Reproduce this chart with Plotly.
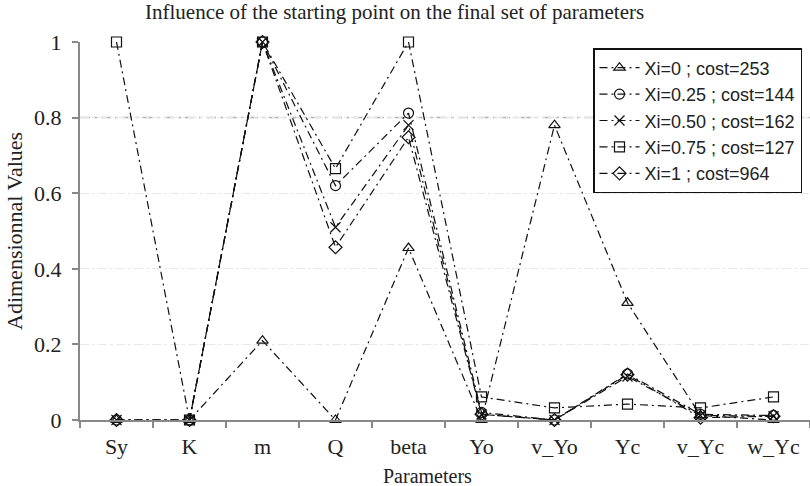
import plotly.graph_objects as go

params = ["Sy", "K", "m", "Q", "beta", "Yo", "v_Yo", "Yc", "v_Yc", "w_Yc"]
names = ["Xi=0 ; cost=253", "Xi=0.25 ; cost=144", "Xi=0.50 ; cost=162",
         "Xi=0.75 ; cost=127", "Xi=1 ; cost=964"]
xi_0 = [0.0, 0.0, 0.21, 0.0, 0.455, 0.0, 0.78, 0.31, 0.012, 0.0]
xi_025 = [0.0, 0.0, 1.0, 0.62, 0.812, 0.02, 0.0, 0.122, 0.015, 0.012]
xi_050 = [0.0, 0.0, 1.0, 0.51, 0.78, 0.015, 0.0, 0.115, 0.012, 0.01]
xi_075 = [1.0, 0.0, 1.0, 0.665, 1.0, 0.061, 0.032, 0.042, 0.032, 0.061]
xi_1 = [0.0, 0.0, 1.0, 0.457, 0.748, 0.015, 0.0, 0.12, 0.006, 0.01]
series = [xi_0, xi_025, xi_050, xi_075, xi_1]
symbols = ["triangle-up-open", "circle-open", "x-thin-open", "square-open", "diamond-open"]
ref_line = 0.8

W, H = 810, 486
L, R, T, B = 80, 0, 42, 66
pw, ph = W - L - R, H - T - B

serif = "Liberation Serif, Times New Roman, serif"
sans = "Liberation Sans, Arial, sans-serif"

fig = go.Figure()
for i, (nm, ys, sym) in enumerate(zip(names, series, symbols)):
    fig.add_trace(go.Scatter(
        x=params, y=ys, name=nm, mode="lines+markers",
        legendgroup=str(i),
        line=dict(color="#111", width=1.2, dash="8px,4px,2px,4px"),
        marker=dict(symbol=sym, size=10, color="#111", line=dict(color="#111", width=1.2)),
        cliponaxis=False,
    ))

fig.add_shape(type="line", xref="paper", yref="y", x0=0, x1=1, y0=ref_line, y1=ref_line,
              line=dict(color="#b0b0b0", width=1.5, dash="10px,4px,3px,4px"), layer="below")

def px2paper_x(px):
    return (px - L) / pw

def px2paper_y(py):
    return (H - B - py) / ph

fig.add_annotation(text="Influence of the starting point on the final set of parameters",
                   xref="paper", yref="paper", x=px2paper_x(394), y=px2paper_y(26),
                   xanchor="center", yanchor="bottom", showarrow=False,
                   font=dict(family=serif, size=21, color="#222"))
fig.add_annotation(text="Parameters", xref="paper", yref="paper",
                   x=px2paper_x(427), y=px2paper_y(463), xanchor="center", yanchor="top",
                   showarrow=False, font=dict(family=serif, size=20, color="#222"))
fig.add_annotation(text="Adimensionnal Values", xref="paper", yref="paper",
                   x=px2paper_x(14), y=0.5, xanchor="center", yanchor="middle", textangle=-90,
                   showarrow=False, font=dict(family=serif, size=22, color="#222"))

fig.update_layout(
    width=W, height=H,
    margin=dict(l=L, r=R, t=T, b=B, pad=0),
    paper_bgcolor="white", plot_bgcolor="white",
    showlegend=True,
    legend=dict(x=px2paper_x(593), y=px2paper_y(48), xanchor="left", yanchor="top",
                bgcolor="white", bordercolor="#111", borderwidth=1.5,
                font=dict(family=sans, size=18, color="#222"),
                tracegroupgap=0, traceorder="grouped", itemwidth=40),
    xaxis=dict(type="category", range=[-0.5, 9.5], showgrid=False, zeroline=False,
               showline=True, linecolor="#888", linewidth=2,
               ticks="outside", ticklen=6, tickcolor="#888", tickwidth=1.5,
               tickson="boundaries", ticklabelstandoff=6,
               tickfont=dict(family=serif, size=22, color="#222")),
    yaxis=dict(range=[0, 1], tickvals=[0, 0.2, 0.4, 0.6, 0.8, 1],
               ticktext=["0", "0.2", "0.4", "0.6", "0.8", "1"],
               showgrid=True, gridcolor="#e8e8e8", griddash="dashdot", gridwidth=1,
               zeroline=False, showline=True, linecolor="#888", linewidth=2,
               ticks="outside", ticklen=6, tickcolor="#888", tickwidth=1.5,
               ticklabelstandoff=6,
               tickfont=dict(family=serif, size=22, color="#222")),
)

fig.write_html("out.html")
